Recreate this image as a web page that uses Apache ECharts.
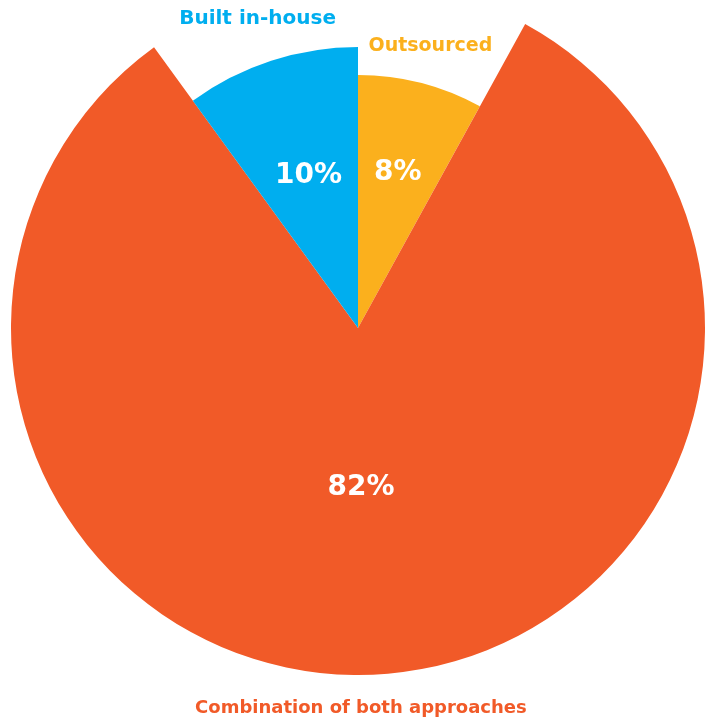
<!DOCTYPE html>
<html>
<head>
<meta charset="utf-8">
<script src="https://cdn.jsdelivr.net/npm/echarts@6/dist/echarts.min.js"></script>
<style>html,body{margin:0;padding:0;background:#fff}#c{width:708px;height:722px}</style>
</head>
<body>
<div id="c"></div>
<script>
const categories = ['Outsourced', 'Combination of both approaches', 'Built in-house'];
const values = [8, 82, 10];
const colors = ['#FBB01D', '#F15A28', '#00AEEF'];
const sliceRadius = [253, 347, 281];
const nameRadius = [288, 378, 322];
const nameFontSize = [19, 18, 20];
const namePadRight = [0, 42, 0];
const pctPadRight = [0, 14, 0];
const pctRadius = 157;
const FONT = 'DejaVu Sans';
const center = [358, 328];
const T = 'rgba(0,0,0,0)';

function baseData(activeIdx, colored, labelOpts) {
  return categories.map((n, i) => ({
    name: n,
    value: values[i],
    itemStyle: { color: (colored && i === activeIdx) ? colors[i] : T },
    label: (i === activeIdx && labelOpts) ? labelOpts : { show: false }
  }));
}
const common = {
  type: 'pie', center: center, startAngle: 90, clockwise: true,
  avoidLabelOverlap: false, labelLine: { show: false },
  emphasis: { disabled: true }, silent: true, animation: false
};
const series = [];
categories.forEach((n, i) => {
  series.push(Object.assign({}, common, {
    radius: [0, sliceRadius[i]],
    data: baseData(i, true, null)
  }));
});
categories.forEach((n, i) => {
  series.push(Object.assign({}, common, {
    radius: [nameRadius[i] - 10, nameRadius[i] + 10],
    data: baseData(i, false, {
      show: true, position: 'inside', formatter: '{b}',
      color: colors[i], fontFamily: FONT, fontWeight: 'bold', fontSize: nameFontSize[i],
      padding: [0, namePadRight[i], 0, 0]
    })
  }));
});
series.push(Object.assign({}, common, {
  radius: [pctRadius - 10, pctRadius + 10],
  data: categories.map((n, i) => ({
    name: n, value: values[i], itemStyle: { color: T },
    label: { show: true, position: 'inside', formatter: '{c}%', color: '#fff',
      fontFamily: FONT, fontWeight: 'bold', fontSize: 28,
      padding: [0, pctPadRight[i], 0, 0] }
  }))
}));
const chart = echarts.init(document.getElementById('c'));
chart.setOption({ animation: false, series: series });
</script>
</body>
</html>
